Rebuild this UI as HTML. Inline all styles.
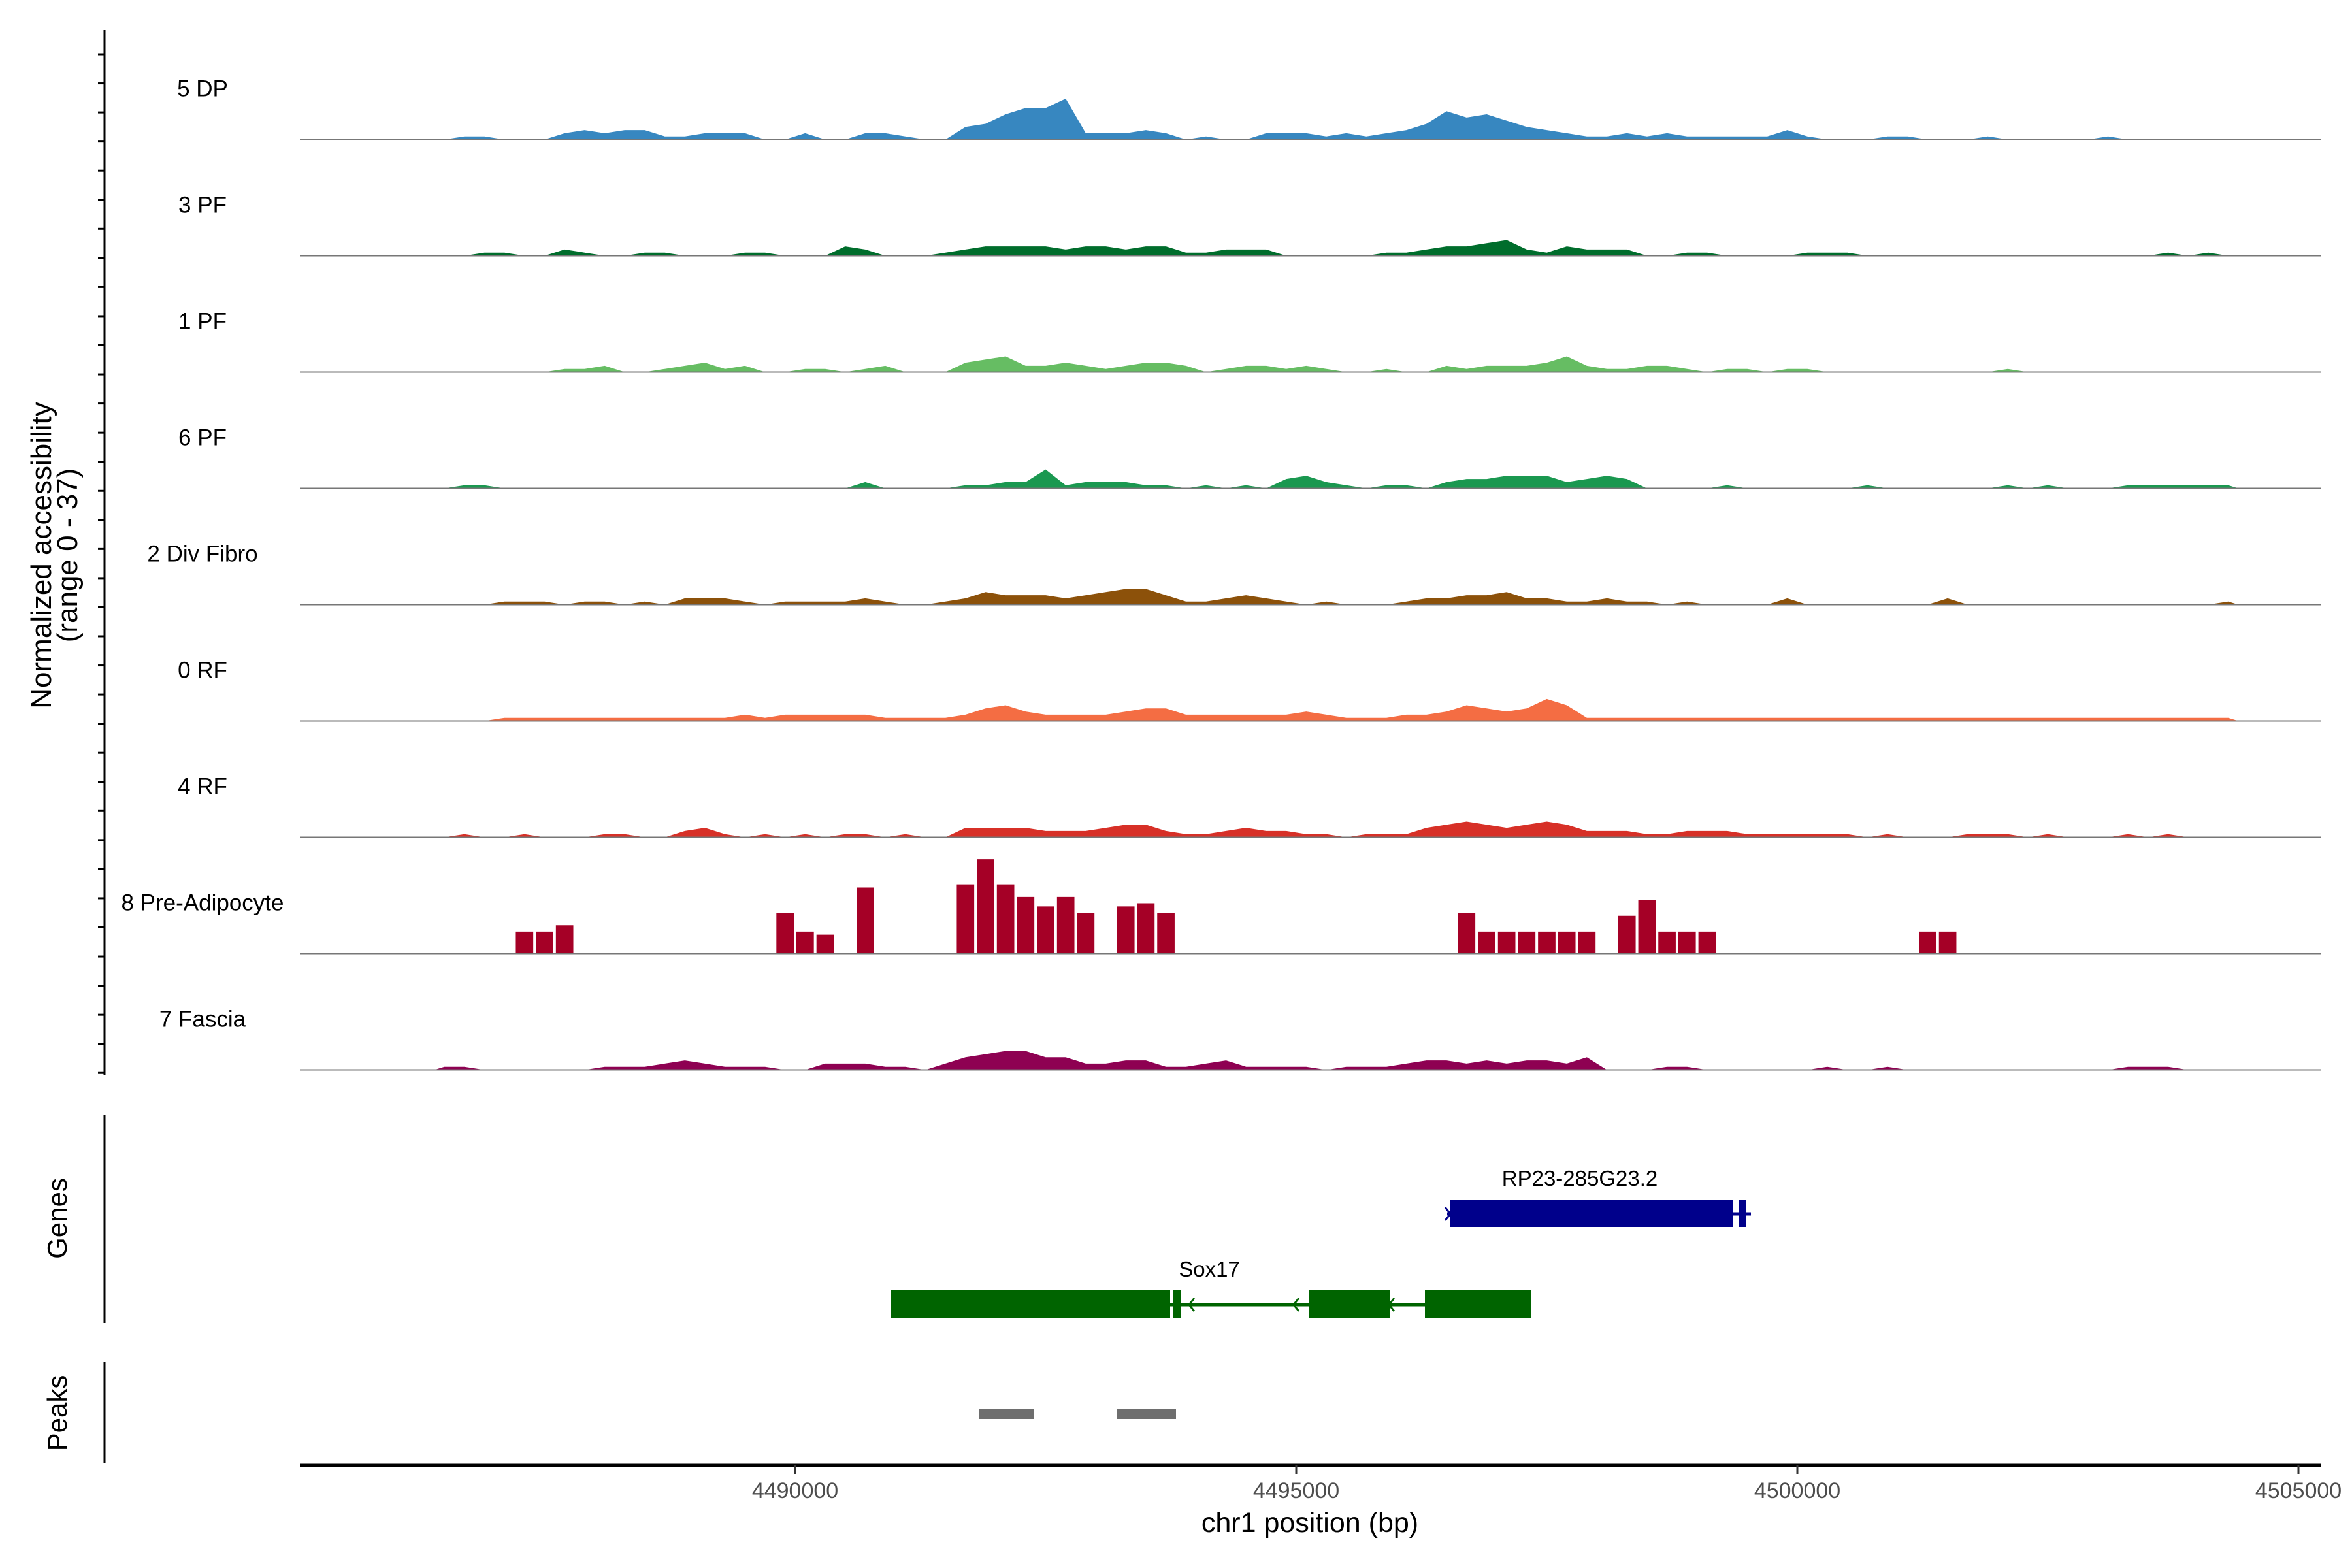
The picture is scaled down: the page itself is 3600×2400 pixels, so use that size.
<!DOCTYPE html>
<html><head><meta charset="utf-8">
<style>
html,body{margin:0;padding:0;background:#fff;}
svg{display:block;font-family:"Liberation Sans",Arial,sans-serif;}
</style></head>
<body>
<svg id="chart" width="3600" height="2400" viewBox="0 0 3600 2400" xmlns="http://www.w3.org/2000/svg">
<rect width="3600" height="2400" fill="#fff"/>
<g id="tracks"></g>
<g id="yaxis">
<line x1="160" y1="46" x2="160" y2="1646" stroke="#000" stroke-width="3"/>
</g>
<text transform="translate(78,850) rotate(-90)" font-size="44" text-anchor="middle">Normalized accessibility</text>
<text transform="translate(118,850) rotate(-90)" font-size="44" text-anchor="middle">(range 0 - 37)</text>

<g>
<line x1="160" y1="1706" x2="160" y2="2025" stroke="#000" stroke-width="3"/>
<text transform="translate(102,1865) rotate(-90)" font-size="42" text-anchor="middle">Genes</text>
<g>
<text x="2418" y="1815" font-size="33" text-anchor="middle">RP23-285G23.2</text>
<line x1="2215" y1="1858" x2="2680" y2="1858" stroke="#00008b" stroke-width="5"/>
<rect x="2220" y="1837" width="432" height="41" fill="#00008b"/>
<rect x="2662" y="1837" width="10" height="41" fill="#00008b"/>
<path d="M2212,1848 L2220,1858 L2212,1868" fill="none" stroke="#00008b" stroke-width="3"/>
</g>
<g>
<text x="1851" y="1954" font-size="33" text-anchor="middle">Sox17</text>
<line x1="1791" y1="1997" x2="2344" y2="1997" stroke="#006400" stroke-width="5"/>
<rect x="1364" y="1975" width="427" height="43" fill="#006400"/>
<rect x="1796" y="1975" width="12" height="43" fill="#006400"/>
<rect x="2004" y="1975" width="124" height="43" fill="#006400"/>
<rect x="2181" y="1975" width="163" height="43" fill="#006400"/>
<path d="M1828,1987 L1820,1997 L1828,2007 M1988,1987 L1980,1997 L1988,2007 M2134,1987 L2126,1997 L2134,2007" fill="none" stroke="#006400" stroke-width="3"/>
</g>
</g>

<g>
<line x1="160" y1="2085" x2="160" y2="2239" stroke="#000" stroke-width="3"/>
<text transform="translate(102,2163) rotate(-90)" font-size="42" text-anchor="middle">Peaks</text>
<rect x="1499" y="2156" width="83" height="16" fill="#6e6e6e"/>
<rect x="1710" y="2156" width="90" height="16" fill="#6e6e6e"/>
</g>

<g id="xaxis">
<line x1="459" y1="2243" x2="3552" y2="2243" stroke="#000" stroke-width="5"/>
</g>
<text x="2005" y="2345" font-size="43" text-anchor="middle">chr1 position (bp)</text>

<script>
const trackNames = ["5 DP","3 PF","1 PF","6 PF","2 Div Fibro","0 RF","4 RF","8 Pre-Adipocyte","7 Fascia"];
const trackColors = ["#3787c0","#006d2c","#66bd63","#1a9850","#8c510a","#f46d43","#d73027","#a50026","#8e0152"];
const binStart = 4486400;
const binSize = 200;
const xTicks = [4490000,4495000,4500000,4505000];
const sDP5 = [0,1,1,0,0,0,2,3,2,3,3,1,1,2,2,2,0,0,2,0,0,2,2,1,0,0,4,5,8,10,10,13,2,2,2,3,2,0,1,0,0,2,2,2,1,2,1,2,3,5,9,7,8,6,4,3,2,1,1,2,1,2,1,1,1,1,1,3,1,0,0,0,1,1,0,0,0,1,0,0,0,0,0,1,0,0,0,0,0,0];
const sPF3 = [0,0,1,1,0,0,2,1,0,0,1,1,0,0,0,1,1,0,0,0,3,2,0,0,0,1,2,3,3,3,3,2,3,3,2,3,3,1,1,2,2,2,0,0,0,0,0,1,1,2,3,3,4,5,2,1,3,2,2,2,0,0,1,1,0,0,0,0,1,1,1,0,0,0,0,0,0,0,0,0,0,0,0,0,0,0,1,0,1,0];
const sPF1 = [0,0,0,0,0,0,1,1,2,0,0,1,2,3,1,2,0,0,1,1,0,1,2,0,0,0,3,4,5,2,2,3,2,1,2,3,3,2,0,1,2,2,1,2,1,0,0,1,0,0,2,1,2,2,2,3,5,2,1,1,2,2,1,0,1,1,0,1,1,0,0,0,0,0,0,0,0,0,1,0,0,0,0,0,0,0,0,0,0,0];
const sPF6 = [0,1,1,0,0,0,0,0,0,0,0,0,0,0,0,0,0,0,0,0,0,2,0,0,0,0,1,1,2,2,6,1,2,2,2,1,1,0,1,0,1,0,3,4,2,1,0,1,1,0,2,3,3,4,4,4,2,3,4,3,0,0,0,0,1,0,0,0,0,0,0,1,0,0,0,0,0,0,1,0,1,0,0,0,1,1,1,1,1,1];
const sDiv2 = [0,0,0,1,1,1,0,1,1,0,1,0,2,2,2,1,0,1,1,1,1,2,1,0,0,1,2,4,3,3,3,2,3,4,5,5,3,1,1,2,3,2,1,0,1,0,0,0,1,2,2,3,3,4,2,2,1,1,2,1,1,0,1,0,0,0,0,2,0,0,0,0,0,0,0,2,0,0,0,0,0,0,0,0,0,0,0,0,0,1];
const sRF0 = [0,0,0,1,1,1,1,1,1,1,1,1,1,1,1,2,1,2,2,2,2,2,1,1,1,1,2,4,5,3,2,2,2,2,3,4,4,2,2,2,2,2,2,3,2,1,1,1,2,2,3,5,4,3,4,7,5,1,1,1,1,1,1,1,1,1,1,1,1,1,1,1,1,1,1,1,1,1,1,1,1,1,1,1,1,1,1,1,1,1];
const sRF4 = [0,1,0,0,1,0,0,0,1,1,0,0,2,3,1,0,1,0,1,0,1,1,0,1,0,0,3,3,3,3,2,2,2,3,4,4,2,1,1,2,3,2,2,1,1,0,1,1,1,3,4,5,4,3,4,5,4,2,2,2,1,1,2,2,2,1,1,1,1,1,1,0,1,0,0,0,1,1,1,0,1,0,0,0,1,0,1,0,0,0];
const sPreAd8 = [0,0,0,0,7,7,9,0,0,0,0,0,0,0,0,0,0,13,7,6,0,21,0,0,0,0,22,30,22,18,15,18,13,0,15,16,13,0,0,0,0,0,0,0,0,0,0,0,0,0,0,13,7,7,7,7,7,7,0,12,17,7,7,7,0,0,0,0,0,0,0,0,0,0,7,7,0,0,0,0,0,0,0,0,0,0,0,0,0,0];
const sFas7 = [1,1,0,0,0,0,0,0,1,1,1,2,3,2,1,1,1,0,0,2,2,2,1,1,0,2,4,5,6,6,4,4,2,2,3,3,1,1,2,3,1,1,1,1,0,1,1,1,2,3,3,2,3,2,3,3,2,4,0,0,0,1,1,0,0,0,0,0,0,1,0,0,1,0,0,0,0,0,0,0,0,0,0,0,1,1,1,0,0,0];
const seriesList = [sDP5,sPF3,sPF1,sPF6,sDiv2,sRF0,sRF4,sPreAd8,sFas7];
const stepTrack = [false,false,false,false,false,false,false,true,false];

const NS = "http://www.w3.org/2000/svg";
function xScale(bp){ return 1217 + (bp - 4490000) * (767/5000); }
const trackH = 178, yMax = 37;
function baseY(k){ return 213.5 + trackH * k; }
function yScale(v, k){ return baseY(k) - v / yMax * trackH; }

const tracks = document.getElementById('tracks');
seriesList.forEach(function(vals, k){
  const g = document.createElementNS(NS,'g');
  
  
  let d = 'M' + xScale(binStart) + ',' + baseY(k);
  vals.forEach(function(v, i){
    const x0 = xScale(binStart + i * binSize), x1 = xScale(binStart + (i + 1) * binSize);
    if (stepTrack[k]) {
      const gap = v > 0 ? 2 : 0;
      d += ' L' + (x0 + gap) + ',' + baseY(k) + ' L' + (x0 + gap) + ',' + yScale(v, k) + ' L' + (x1 - gap) + ',' + yScale(v, k) + ' L' + (x1 - gap) + ',' + baseY(k);
    } else {
      d += ' L' + ((x0 + x1) / 2) + ',' + yScale(v, k);
    }
  });
  d += ' L' + xScale(binStart + vals.length * binSize) + ',' + baseY(k) + ' Z';
  const p = document.createElementNS(NS,'path');
  p.setAttribute('d', d);
  p.setAttribute('fill', trackColors[k]);
  
  
  g.appendChild(p);
  const bl = document.createElementNS(NS,'line');
  bl.setAttribute('x1', 459); bl.setAttribute('x2', 3552);
  bl.setAttribute('y1', baseY(k)); bl.setAttribute('y2', baseY(k));
  bl.setAttribute('stroke', '#777'); bl.setAttribute('stroke-width', '2');
  
  
  g.appendChild(bl);
  const t = document.createElementNS(NS,'text');
  t.setAttribute('x', 310); t.setAttribute('y', baseY(k) - 66);
  t.setAttribute('font-size', '35'); t.setAttribute('text-anchor', 'middle');
  t.textContent = trackNames[k];
  
  
  g.appendChild(t);
  tracks.appendChild(g);
});

const yaxis = document.getElementById('yaxis');
for (let y = 83; y <= 1645; y += 44.55) {
  const tk = document.createElementNS(NS,'line');
  tk.setAttribute('x1', 150); tk.setAttribute('x2', 160);
  tk.setAttribute('y1', y); tk.setAttribute('y2', y);
  tk.setAttribute('stroke', '#000'); tk.setAttribute('stroke-width', '3');
  
  
  yaxis.appendChild(tk);
}

const xaxis = document.getElementById('xaxis');
xTicks.forEach(function(v){
  const x = xScale(v);
  const tk = document.createElementNS(NS,'line');
  tk.setAttribute('x1', x); tk.setAttribute('x2', x);
  tk.setAttribute('y1', 2243); tk.setAttribute('y2', 2256);
  tk.setAttribute('stroke', '#333'); tk.setAttribute('stroke-width', '3');
  
  
  xaxis.appendChild(tk);
  const t = document.createElementNS(NS,'text');
  t.setAttribute('x', x); t.setAttribute('y', 2293);
  t.setAttribute('font-size', '34'); t.setAttribute('fill', '#4d4d4d');
  t.setAttribute('text-anchor', 'middle');
  t.textContent = String(v);
  
  
  xaxis.appendChild(t);
});
</script>
</svg>
</body></html>
